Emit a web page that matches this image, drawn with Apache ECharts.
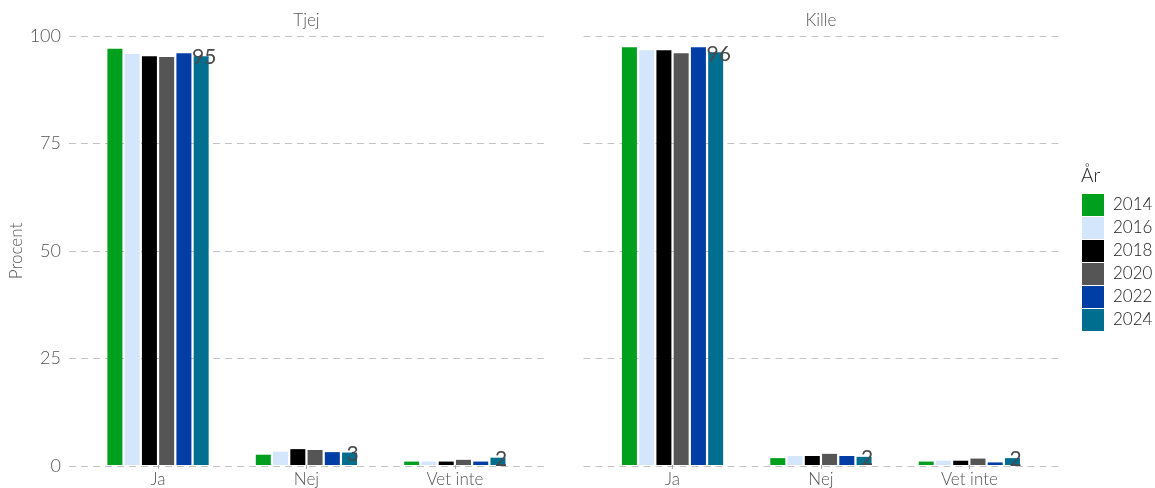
<!DOCTYPE html>
<html><head><meta charset="utf-8">
<script src="https://cdn.jsdelivr.net/npm/echarts@6/dist/echarts.min.js"></script>
<style>html,body{margin:0;padding:0;background:#fff}#c{width:1155px;height:488px}</style>
</head><body><div id="c"></div>
<script>
const categories = ['Ja', 'Nej', 'Vet inte'];
const years = ['2014', '2016', '2018', '2020', '2022', '2024'];
const panels = ['Tjej', 'Kille'];
const yTicks = [0, 25, 50, 75, 100];
// values per year: [Ja, Nej, Vet inte]
const tjej2014 = [97.0, 2.4, 0.8];
const tjej2016 = [95.8, 3.1, 0.8];
const tjej2018 = [95.3, 3.7, 0.8];
const tjej2020 = [95.1, 3.5, 1.2];
const tjej2022 = [96.0, 3.0, 0.8];
const tjej2024 = [95.3, 2.9, 1.7];
const kille2014 = [97.4, 1.6, 0.8];
const kille2016 = [96.7, 2.1, 1.0];
const kille2018 = [96.7, 2.1, 1.0];
const kille2020 = [96.0, 2.6, 1.5];
const kille2022 = [97.4, 2.1, 0.6];
const kille2024 = [96.2, 1.9, 1.6];

const tjej = [tjej2014, tjej2016, tjej2018, tjej2020, tjej2022, tjej2024];
const kille = [kille2014, kille2016, kille2018, kille2020, kille2022, kille2024];
const colors = ['#00a01f', '#d3e6fb', '#000000', '#555555', '#003da5', '#006f8f'];

const FONT = 'Lato, "Open Sans", sans-serif';
const FW = 300;
const grey = '#555555';
const band = 148.4;
const panelLeft = [69, 583.5];
const panelW = band * 3.2;
const gTop = 36, gH = 430;

const grids = [], xAxes = [], yAxes = [], series = [], titles = [];
panelLeft.forEach((pl, p) => {
  grids.push({left: pl, top: gTop, width: panelW, height: gH});
  xAxes.push({type: 'value', gridIndex: 2*p, min: 0, max: 1, show: false});
  yAxes.push({type: 'value', gridIndex: 2*p, min: 0, max: 100, interval: 25,
    axisLine: {show: false}, axisTick: {show: false},
    axisLabel: {show: p === 0, fontSize: 18, color: grey, fontFamily: FONT, fontWeight: FW, margin: 8},
    splitLine: {show: true, lineStyle: {color: '#c4c4c4', type: [7, 5], width: 1.2}},
    name: p === 0 ? 'Procent' : '', nameLocation: 'middle', nameRotate: 90, nameGap: 44,
    nameTextStyle: {fontSize: 17, color: grey, fontFamily: FONT, fontWeight: FW}
  });
  grids.push({left: pl + 0.1 * band, top: gTop, width: band * 3, height: gH});
  xAxes.push({type: 'category', gridIndex: 2*p+1, data: categories,
    axisLine: {show: false},
    axisTick: {show: true, alignWithLabel: true, length: 4, lineStyle: {color: '#aaaaaa'}},
    axisLabel: {fontSize: 17, color: grey, fontFamily: FONT, fontWeight: FW, margin: 6}
  });
  yAxes.push({type: 'value', gridIndex: 2*p+1, min: 0, max: 100, show: false, splitLine: {show: false}});
  const data = p === 0 ? tjej : kille;
  years.forEach((y, i) => {
    const s = {
      name: y, type: 'bar', xAxisIndex: 2*p+1, yAxisIndex: 2*p+1,
      data: data[i], barWidth: 15, barGap: '15%',
      itemStyle: {color: colors[i]}
    };
    if (i === years.length - 1) {
      s.label = {show: true, position: 'top', distance: 0, offset: [3, 12],
        formatter: (d) => Math.round(d.value), fontSize: 21, color: '#4a4a4a', fontFamily: FONT, fontWeight: 400};
    }
    series.push(s);
  });
  titles.push({text: panels[p], left: pl + panelW / 2, top: 12, textAlign: 'center', padding: 0,
    textStyle: {fontSize: 17, fontWeight: FW, color: grey, fontFamily: FONT}});
});
titles.push({text: 'År', left: 1081, top: 166, padding: 0,
  textStyle: {fontSize: 19, fontWeight: FW, color: '#1a1a1a', fontFamily: FONT}});

const chart = echarts.init(document.getElementById('c'), null, {renderer: 'canvas'});
chart.setOption({
  backgroundColor: '#ffffff',
  animation: false,
  title: titles,
  color: colors,
  legend: {data: years, orient: 'vertical', left: 1082, top: 194, padding: 0,
    itemWidth: 22, itemHeight: 22, itemGap: 1, icon: 'rect',
    textStyle: {fontSize: 17, color: '#1a1a1a', fontFamily: FONT, fontWeight: FW, padding: [0, 0, 0, 4]}},
  grid: grids, xAxis: xAxes, yAxis: yAxes, series: series
});
</script></body></html>
